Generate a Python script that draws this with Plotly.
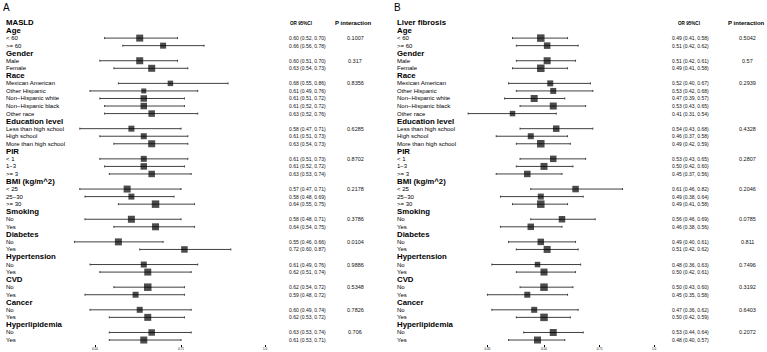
import math
import plotly.graph_objects as go

# ---------------- data ----------------
groups = ["Age", "Gender", "Race", "Education level", "PIR", "BMI (kg/m^2)",
          "Smoking", "Diabetes", "Hypertension", "CVD", "Cancer", "Hyperlipidemia"]
subgroups = [
    ["< 60", ">= 60"],
    ["Male", "Female"],
    ["Mexican American", "Other Hispanic", "Non\u2212Hispanic white", "Non\u2212Hispanic black", "Other race"],
    ["Less than high school", "High school", "More than high school"],
    ["< 1", "1\u22123", ">= 3"],
    ["< 25", "25\u221230", ">= 30"],
    ["No", "Yes"],
    ["No", "Yes"],
    ["No", "Yes"],
    ["No", "Yes"],
    ["No", "Yes"],
    ["No", "Yes"],
]

titles = ["MASLD", "Liver fibrosis"]

or_a = [0.60, 0.66, 0.60, 0.63, 0.68, 0.61, 0.61, 0.61, 0.63, 0.58, 0.61, 0.63, 0.61, 0.61, 0.63,
        0.57, 0.58, 0.64, 0.58, 0.64, 0.55, 0.72, 0.61, 0.62, 0.62, 0.59, 0.60, 0.62, 0.63, 0.61]
lo_a = [0.52, 0.56, 0.51, 0.54, 0.55, 0.49, 0.51, 0.52, 0.52, 0.47, 0.51, 0.54, 0.51, 0.52, 0.53,
        0.47, 0.48, 0.55, 0.48, 0.54, 0.46, 0.60, 0.49, 0.51, 0.54, 0.48, 0.49, 0.53, 0.53, 0.53]
hi_a = [0.70, 0.78, 0.70, 0.73, 0.86, 0.76, 0.72, 0.72, 0.76, 0.71, 0.73, 0.73, 0.73, 0.72, 0.74,
        0.71, 0.69, 0.75, 0.71, 0.75, 0.66, 0.87, 0.76, 0.74, 0.72, 0.72, 0.74, 0.72, 0.74, 0.71]
p_a = ["0.1007", "0.317", "0.8356", "0.6285", "0.8702", "0.2178",
       "0.3786", "0.0104", "0.9886", "0.5348", "0.7826", "0.706"]
weight_a = [7, 6, 7, 7, 5.5, 5, 6.5, 6.5, 6.5, 6, 6, 7, 6, 6.5, 6.5,
            7, 6, 7.5, 7, 7, 7, 6.5, 6, 7, 7.5, 6, 6, 7, 6.5, 7]

or_b = [0.49, 0.51, 0.51, 0.49, 0.52, 0.53, 0.47, 0.53, 0.41, 0.54, 0.46, 0.49, 0.53, 0.50, 0.45,
        0.61, 0.49, 0.49, 0.56, 0.46, 0.49, 0.51, 0.48, 0.50, 0.50, 0.45, 0.47, 0.50, 0.53, 0.48]
lo_b = [0.41, 0.42, 0.42, 0.41, 0.40, 0.42, 0.39, 0.43, 0.31, 0.43, 0.37, 0.42, 0.43, 0.42, 0.37,
        0.46, 0.38, 0.41, 0.46, 0.38, 0.40, 0.42, 0.36, 0.42, 0.43, 0.35, 0.36, 0.42, 0.44, 0.40]
hi_b = [0.58, 0.62, 0.61, 0.58, 0.67, 0.68, 0.57, 0.65, 0.54, 0.68, 0.58, 0.59, 0.65, 0.60, 0.56,
        0.82, 0.64, 0.58, 0.69, 0.56, 0.61, 0.62, 0.63, 0.61, 0.60, 0.58, 0.62, 0.59, 0.64, 0.57]
p_b = ["0.5042", "0.57", "0.2939", "0.4328", "0.2807", "0.2046",
       "0.0785", "0.811", "0.7496", "0.3192", "0.6403", "0.2072"]
weight_b = [7.5, 6.5, 7, 7.5, 6, 6, 7, 7, 5.5, 6.5, 6, 7.5, 6.5, 7, 6.5,
            6.5, 6, 7.5, 6.5, 6.5, 6.5, 7, 5.5, 7, 7.5, 6, 6, 7.5, 7, 7]

ticks_a = [0.50, 0.71, 1.0]
ticks_b = [0.35, 0.50, 0.71, 1.0]

# ---------------- layout geometry ----------------
W, H = 767, 352
FONT = "Liberation Sans"
row0_px, row_step = 23.0, 7.548
axis_px = 344.0
y_top = -row0_px / row_step
y_bot = (axis_px - row0_px) / row_step
y_dom0 = (H - axis_px) / H

def px(x):
    return x / W

# row layout
label_rows = []  # (row, text, bold)
data_rows = []
p_rows = []
r = 1
for g, subs in zip(groups, subgroups):
    label_rows.append((r, g, True))
    r += 1
    for i, s in enumerate(subs):
        label_rows.append((r, s, False))
        data_rows.append(r)
        if i == 0:
            p_rows.append(r)
        r += 1

panels = [
    dict(xa="x", key="xaxis", title=titles[0], orv=or_a, lo=lo_a, hi=hi_a, p=p_a, w=weight_a,
         ticks=ticks_a, tick_text=["0.50", "0.71", "1.0"],
         dom=(40, 280), anchor_lo=(0.5, 95.0), anchor_hi=(1.0, 265.0),
         letter="A", letter_x=1, label_x=3.5, or_x=287, orh_x=300.5, ph_x=353.5, pv_x=355),
    dict(xa="x2", key="xaxis2", title=titles[1], orv=or_b, lo=lo_b, hi=hi_b, p=p_b, w=weight_b,
         ticks=ticks_b, tick_text=["0.35", "0.50", "0.71", "1.0"],
         dom=(440, 665), anchor_lo=(0.5, 544.0), anchor_hi=(1.0, 654.0),
         letter="B", letter_x=392.5, label_x=395, or_x=670, orh_x=689, ph_x=746, pv_x=747),
]

fig = go.Figure()
annotations = []
shapes = []

for P in panels:
    (v1, p1), (v2, p2) = P["anchor_lo"], P["anchor_hi"]
    scale = (p2 - p1) / (math.log10(v2) - math.log10(v1))
    rng = [math.log10(v2) - (p2 - P["dom"][0]) / scale,
           math.log10(v2) + (P["dom"][1] - p2) / scale]

    fig.add_trace(go.Scatter(
        x=P["orv"], y=data_rows, mode="markers", xaxis=P["xa"], yaxis="y",
        marker=dict(symbol="square", size=P["w"], color="black", line=dict(width=0)),
        error_x=dict(type="data", symmetric=False,
                     array=[h - o for h, o in zip(P["hi"], P["orv"])],
                     arrayminus=[o - l for o, l in zip(P["orv"], P["lo"])],
                     color="#404040", thickness=1, width=1),
        showlegend=False, hoverinfo="skip", cliponaxis=False))

    fig.layout[P["key"]] = dict(
        type="log", range=rng, domain=[px(P["dom"][0]), px(P["dom"][1])], anchor="y",
        showgrid=False, zeroline=False, showline=False,
        tickvals=P["ticks"], ticktext=P["tick_text"], ticks="outside", ticklen=1.5,
        tickwidth=0.8, tickcolor="black", ticklabelstandoff=0,
        tickfont=dict(size=3, color="black", family=FONT))

    # axis line from first to last tick
    shapes.append(dict(type="line", xref=P["xa"], yref="y domain",
                       x0=math.log10(P["ticks"][0]), x1=math.log10(P["ticks"][-1]), y0=0, y1=0,
                       line=dict(color="black", width=0.8)))
    # reference line at 1
    shapes.append(dict(type="line", xref=P["xa"], yref="y",
                       x0=0, x1=0, y0=1.35, y1=y_bot,
                       line=dict(color="#b5b5b5", width=1.6), layer="below"))

    # panel letter
    annotations.append(dict(text=P["letter"], x=px(P["letter_x"]), y=1 - 8 / H,
                            xref="paper", yref="paper", xanchor="left", yanchor="middle",
                            showarrow=False, font=dict(size=10, color="black", family=FONT)))
    # title / headers
    annotations.append(dict(text="<b>" + P["title"] + "</b>", x=px(P["label_x"]), y=-0.1,
                            xref="paper", yref="y", xanchor="left", yanchor="middle",
                            showarrow=False, font=dict(size=7.8, color="black", family=FONT)))
    annotations.append(dict(text="<b>OR 95%CI</b>", x=px(P["orh_x"]), y=0,
                            xref="paper", yref="y", xanchor="center", yanchor="middle",
                            showarrow=False, font=dict(size=4.6, color="black", family=FONT)))
    annotations.append(dict(text="<b>P interaction</b>", x=px(P["ph_x"]), y=0,
                            xref="paper", yref="y", xanchor="center", yanchor="middle",
                            showarrow=False, font=dict(size=6, color="black", family=FONT)))
    for row, txt, bold in label_rows:
        annotations.append(dict(text=("<b>" + txt + "</b>") if bold else txt,
                                x=px(P["label_x"]), y=row, xref="paper", yref="y",
                                xanchor="left", yanchor="middle", showarrow=False,
                                font=dict(size=7.8 if bold else 6, color="black", family=FONT)))
    for row, o, l, h in zip(data_rows, P["orv"], P["lo"], P["hi"]):
        annotations.append(dict(text=f"{o:.2f} ({l:.2f}, {h:.2f})", x=px(P["or_x"]), y=row,
                                xref="paper", yref="y", xanchor="left", yanchor="middle",
                                showarrow=False, font=dict(size=5, color="#111111", family=FONT)))
    for row, pv in zip(p_rows, P["p"]):
        annotations.append(dict(text=pv, x=px(P["pv_x"]), y=row,
                                xref="paper", yref="y", xanchor="center", yanchor="middle",
                                showarrow=False, font=dict(size=5.5, color="#111111", family=FONT)))

fig.update_layout(
    width=W, height=H, margin=dict(l=0, r=0, t=0, b=0, pad=0),
    paper_bgcolor="white", plot_bgcolor="rgba(0,0,0,0)",
    yaxis=dict(range=[y_bot, y_top], domain=[y_dom0, 1], showgrid=False, zeroline=False,
               showticklabels=False, showline=False, ticks=""),
    annotations=annotations, shapes=shapes,
    font=dict(family=FONT, color="black"),
)

fig.write_html("out.html", config={"displayModeBar": False},
               post_script="document.body.style.margin='0';document.body.style.overflow='hidden';")
